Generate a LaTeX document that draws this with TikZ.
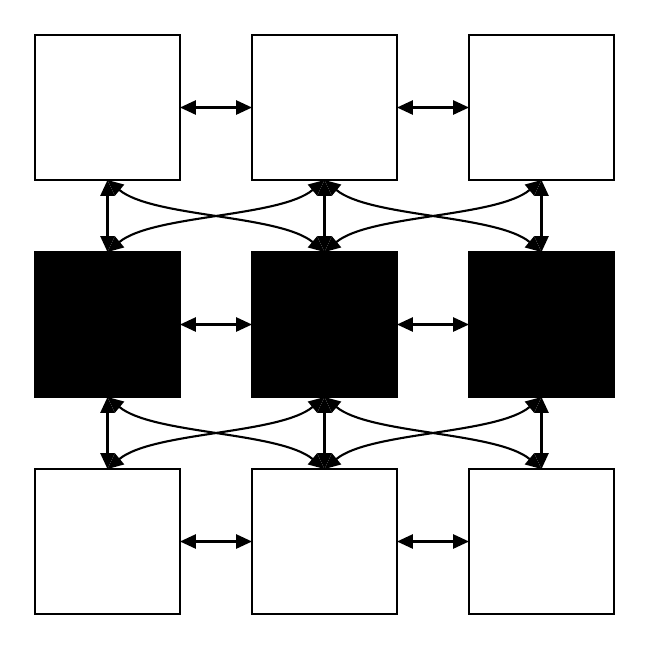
\documentclass[tikz,border=0pt]{standalone}
\usepackage{xcolor}
\usepackage{tikz}
\usetikzlibrary{positioning, arrows.meta, calc}

\begin{document}
\begin{tikzpicture}[
    node distance=1.44cm and 1.44cm,
    cell/.style={
        draw=black, line width=1.15pt, fill=white,
        minimum size=2.9cm, outer sep=0pt, inner sep=0pt,
    },
    core/.style={cell, fill=black},
    link/.style={{Triangle[length=9pt, width=8pt]}-{Triangle[length=9pt, width=8pt]}, draw=black, line width=1.2pt},
    cross/.style={out=-40, in=140, looseness=0.65},
    crossb/.style={out=-140, in=40, looseness=0.65},
]

% top row
\node[cell] (t1) {};
\node[cell, right=of t1] (t2) {};
\node[cell, right=of t2] (t3) {};

% middle row
\node[core, below=of t1] (m1) {};
\node[core, right=of m1] (m2) {};
\node[core, right=of m2] (m3) {};

% bottom row
\node[cell, below=of m1] (b1) {};
\node[cell, right=of b1] (b2) {};
\node[cell, right=of b2] (b3) {};

\useasboundingbox ($(t1.north west)+(-0.7,0.7)$) rectangle ($(b3.south east)+(0.7,-0.7)$);

% horizontal links
\draw[link] (t1) -- (t2);
\draw[link] (t2) -- (t3);
\draw[link] (m1) -- (m2);
\draw[link] (m2) -- (m3);
\draw[link] (b1) -- (b2);
\draw[link] (b2) -- (b3);

% vertical links
\draw[link] (t1) -- (m1);
\draw[link] (t2) -- (m2);
\draw[link] (t3) -- (m3);
\draw[link] (m1) -- (b1);
\draw[link] (m2) -- (b2);
\draw[link] (m3) -- (b3);

% crossing links
\draw[link] (t1.south) to[cross] (m2.north);
\draw[link] (t2.south) to[cross] (m3.north);
\draw[link] (t2.south) to[crossb] (m1.north);
\draw[link] (t3.south) to[crossb] (m2.north);
\draw[link] (m1.south) to[cross] (b2.north);
\draw[link] (m2.south) to[cross] (b3.north);
\draw[link] (m2.south) to[crossb] (b1.north);
\draw[link] (m3.south) to[crossb] (b2.north);

\end{tikzpicture}
\end{document}
